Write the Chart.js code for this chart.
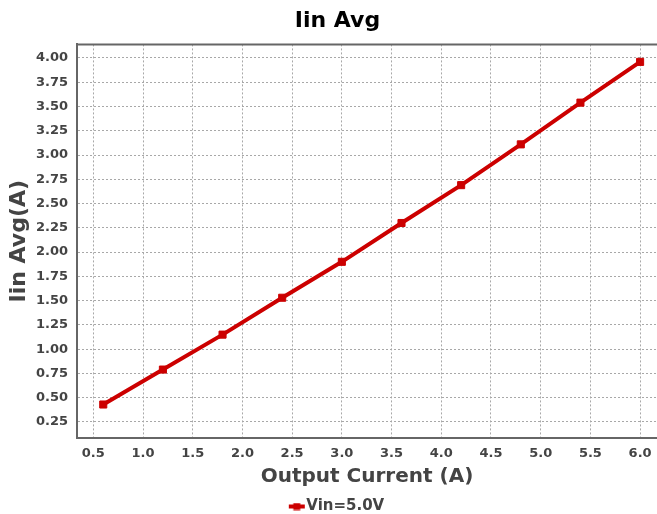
<!DOCTYPE html>
<html>
<head>
<meta charset="utf-8">
<script src="https://cdn.jsdelivr.net/npm/chart.js@4/dist/chart.umd.min.js"></script>
<style>
  html, body { margin: 0; padding: 0; background: #fff; }
  #wrap { width: 657px; height: 514px; }
</style>
</head>
<body>
<div id="wrap"><canvas id="c" width="657" height="514"></canvas></div>
<script>
const currents = [0.6, 1.2, 1.8, 2.4, 3.0, 3.6, 4.2, 4.8, 5.4, 6.0];
const iinAvg = [0.43, 0.79, 1.15, 1.53, 1.90, 2.30, 2.69, 3.11, 3.54, 3.96];
const xTicks = [0.5, 1.0, 1.5, 2.0, 2.5, 3.0, 3.5, 4.0, 4.5, 5.0, 5.5, 6.0];
const yTicks = [0.25, 0.5, 0.75, 1.0, 1.25, 1.5, 1.75, 2.0, 2.25, 2.5, 2.75, 3.0, 3.25, 3.5, 3.75, 4.0];
const seriesName = 'Vin=5.0V';
const chartTitle = 'Iin Avg';
const xTitle = 'Output Current (A)';
const yTitle = 'Iin Avg(A)';

const RED = '#cc0000';
const FONT = 'DejaVu Sans';
const TXT = '#444444';

// legend marker: line with square, drawn on an offscreen canvas
const mk = document.createElement('canvas');
mk.width = 32; mk.height = 8;
(function () {
  const g = mk.getContext('2d');
  g.fillStyle = RED;
  g.fillRect(10, 2, 16, 4);
  g.fillRect(14.5, 0.5, 7, 7);
})();

const topBorder = {
  id: 'topBorder',
  afterDraw(chart) {
    const a = chart.chartArea, ctx = chart.ctx;
    ctx.save();
    ctx.strokeStyle = '#666666';
    ctx.lineWidth = 2;
    ctx.beginPath();
    ctx.moveTo(a.left - 1, a.top);
    ctx.lineTo(a.right, a.top);
    ctx.stroke();
    ctx.restore();
  }
};

new Chart(document.getElementById('c'), {
  type: 'line',
  data: {
    datasets: [{
      label: seriesName,
      data: currents.map((x, i) => ({ x: x, y: iinAvg[i] })),
      borderColor: RED,
      backgroundColor: RED,
      borderWidth: 4,
      pointStyle: 'rect',
      pointRadius: 5,
      pointBorderWidth: 1,
      pointBorderColor: RED,
      pointBackgroundColor: RED,
      tension: 0,
      fill: false
    }]
  },
  options: {
    responsive: false,
    animation: false,
    devicePixelRatio: 1,
    layout: { autoPadding: false, padding: { left: 18, right: 0, top: 0, bottom: -10 } },
    scales: {
      x: {
        type: 'linear',
        min: 0.336,
        max: 6.17,
        afterBuildTicks(s) { s.ticks = xTicks.map(v => ({ value: v })); },
        afterFit(s) { s.height = 51; s.paddingLeft = 0; s.paddingRight = 0; },
        ticks: {
          color: TXT,
          padding: 8,
          autoSkip: false,
          maxRotation: 0,
          font: { family: FONT, size: 13, weight: 'bold' },
          callback: v => Number(v).toFixed(1)
        },
        grid: { color: '#a8a8a8', lineWidth: 1, drawTicks: false },
        border: { display: true, color: '#666666', width: 2, dash: [2, 2] },
        title: {
          display: true,
          text: xTitle,
          color: TXT,
          font: { family: FONT, size: 20, weight: 'bold' },
          padding: { top: 0, bottom: 0 }
        }
      },
      y: {
        type: 'linear',
        min: 0.085,
        max: 4.14,
        afterBuildTicks(s) { s.ticks = yTicks.map(v => ({ value: v })); },
        afterFit(s) { s.width = 59; s.paddingTop = 0; s.paddingBottom = 0; },
        ticks: {
          color: TXT,
          padding: 9,
          autoSkip: false,
          font: { family: FONT, size: 13, weight: 'bold' },
          callback: v => Number(v).toFixed(2)
        },
        grid: { color: '#a8a8a8', lineWidth: 1, drawTicks: false },
        border: { display: true, color: '#666666', width: 2, dash: [2, 2] },
        title: {
          display: true,
          text: yTitle,
          color: TXT,
          font: { family: FONT, size: 22, weight: 'bold' },
          padding: { top: -12, bottom: 0 }
        }
      }
    },
    plugins: {
      title: {
        display: true,
        text: chartTitle,
        color: '#000000',
        font: { family: FONT, size: 22, weight: 'bold' },
        padding: { top: 8, bottom: 10 }
      },
      legend: {
        display: true,
        position: 'bottom',
        labels: {
          usePointStyle: true,
          pointStyle: mk,
          pointStyleWidth: 8,
          padding: 10,
          color: TXT,
          font: { family: FONT, size: 15, weight: 'bold' },
          generateLabels(chart) {
            return chart.data.datasets.map((d, i) => ({
              text: d.label,
              fillStyle: RED,
              strokeStyle: RED,
              lineWidth: 0,
              pointStyle: mk,
              fontColor: TXT,
              hidden: false,
              datasetIndex: i
            }));
          }
        }
      },
      tooltip: { enabled: false }
    }
  },
  plugins: [topBorder]
});
</script>
</body>
</html>
